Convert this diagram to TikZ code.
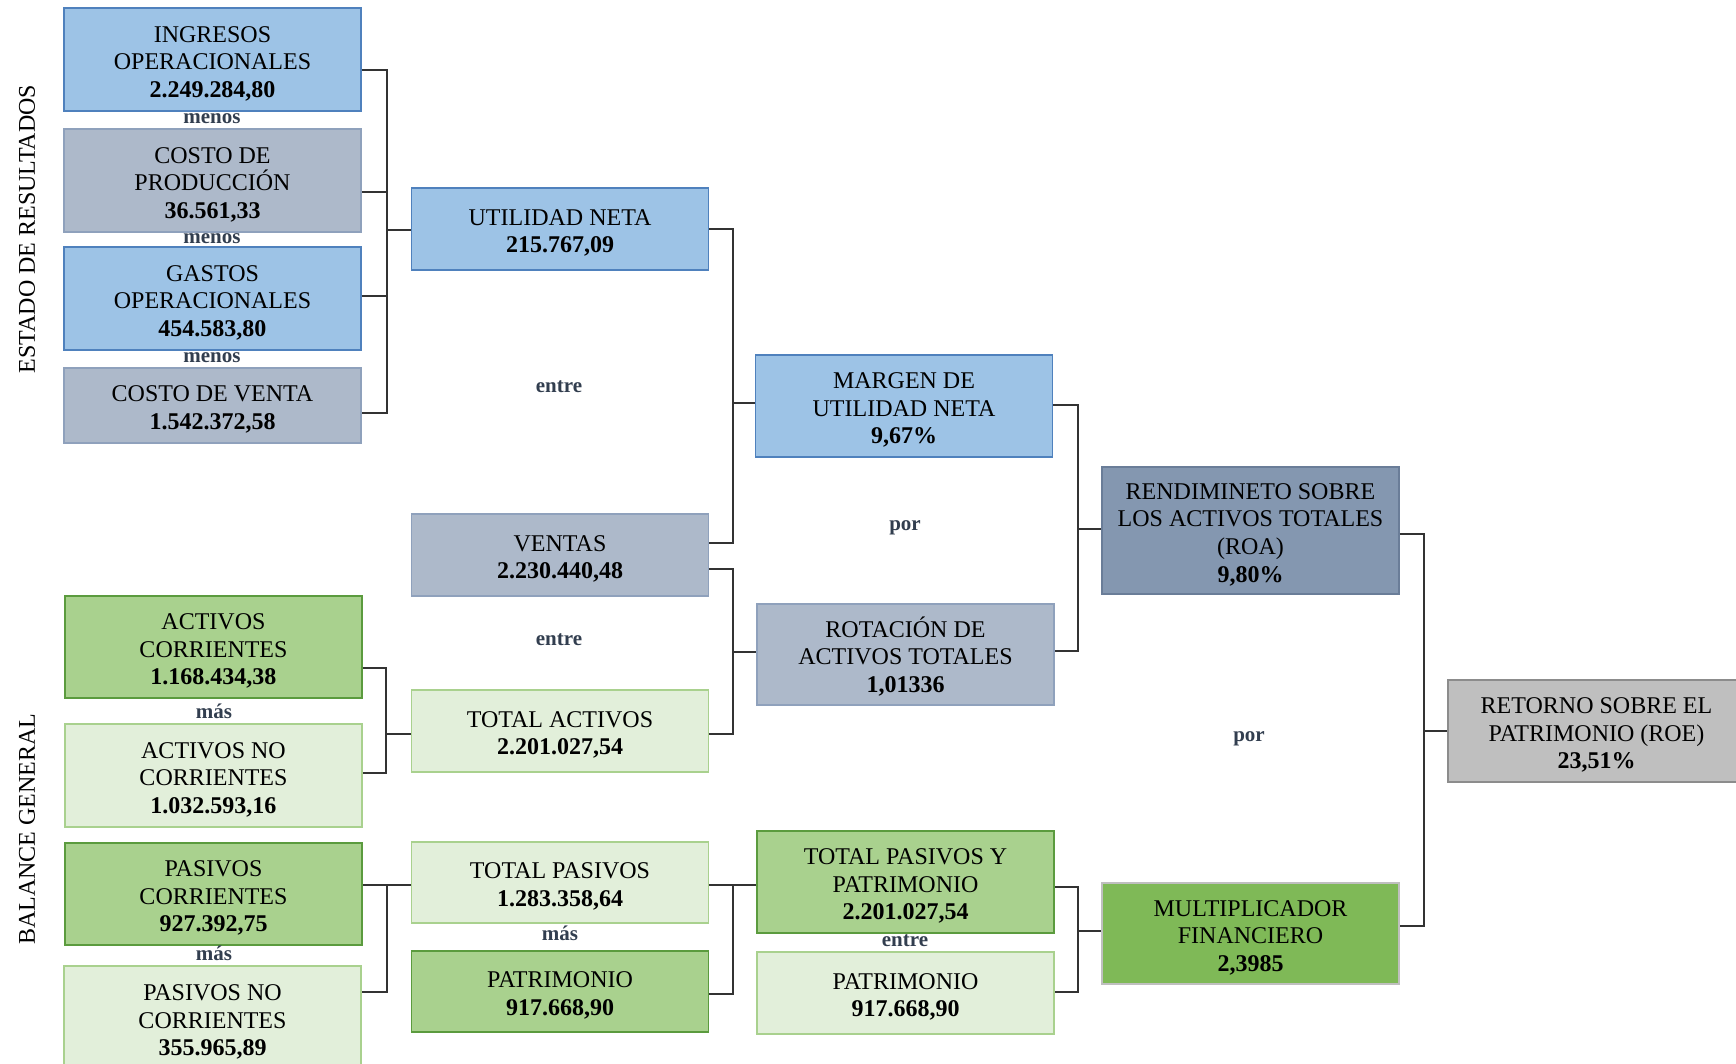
\documentclass[tikz,border=0pt]{standalone}
\usepackage{fontspec}
\setmainfont{Liberation Serif}
\definecolor{bluef}{HTML}{9DC3E6}
\definecolor{blued}{HTML}{4F81BD}
\definecolor{greyf}{HTML}{ADB9CA}
\definecolor{greyd}{HTML}{8FA1BC}
\definecolor{roaf}{HTML}{8497B0}
\definecolor{road}{HTML}{6A7D98}
\definecolor{retf}{HTML}{BFBFBF}
\definecolor{retd}{HTML}{8C8C8C}
\definecolor{greenf}{HTML}{A9D18E}
\definecolor{greend}{HTML}{5B9B3E}
\definecolor{lgreenf}{HTML}{E2EFDA}
\definecolor{lgreend}{HTML}{A9D18E}
\definecolor{multf}{HTML}{7FB957}
\definecolor{multd}{HTML}{BFBFBF}
\definecolor{labc}{HTML}{323E4F}
\definecolor{linec}{HTML}{333333}
\newcommand\bs{\rule{0pt}{12pt}}
\begin{document}
\begin{tikzpicture}[x=0.5pt,y=-0.5pt,
  box/.style={draw, line width=0.9pt, inner sep=0pt, align=center,
    minimum width=148.5pt, font=\fontsize{12}{13.8}\selectfont},
  bluebox/.style={box, fill=bluef, draw=blued},
  greybox/.style={box, fill=greyf, draw=greyd},
  roabox/.style={box, fill=roaf, draw=road},
  retbox/.style={box, fill=retf, draw=retd},
  greenbox/.style={box, fill=greenf, draw=greend},
  lgreenbox/.style={box, fill=lgreenf, draw=lgreend},
  multbox/.style={box, fill=multf, draw=multd},
  oplab/.style={font=\fontsize{10.5}{12}\selectfont\bfseries, text=labc, inner sep=0pt},
  sidelab/.style={font=\fontsize{12}{14}\selectfont, rotate=90, inner sep=0pt},
  conn/.style={draw=linec, line width=0.75pt}
]
\useasboundingbox (0,0) rectangle (1736,1064);
\fill[white] (0,0) rectangle (1736,1064);

% side labels
\node[sidelab] (estado) at (27,229) {ESTADO DE RESULTADOS};
\node[sidelab] (balance) at (27,829) {BALANCE GENERAL};

% column 1
\node[bluebox, minimum height=51.5pt] (ing) at (212.5,59.5) {\bs INGRESOS\\OPERACIONALES\\\textbf{2.249.284,80}};
\node[greybox, minimum height=51.5pt] (cprod) at (212.5,180.5) {\bs COSTO DE\\PRODUCCIÓN\\\textbf{36.561,33}};
\node[bluebox, minimum height=51.5pt] (gastos) at (212.5,298.5) {\bs GASTOS\\OPERACIONALES\\\textbf{454.583,80}};
\node[greybox, minimum height=37.5pt] (cventa) at (212.5,405.5) {\bs COSTO DE VENTA\\\textbf{1.542.372,58}};
\node[greenbox, minimum height=51pt] (actc) at (213.5,647) {\bs ACTIVOS\\CORRIENTES\\\textbf{1.168.434,38}};
\node[lgreenbox, minimum height=51.5pt] (actnc) at (213.5,775.5) {\bs ACTIVOS NO\\CORRIENTES\\\textbf{1.032.593,16}};
\node[greenbox, minimum height=51pt] (pasc) at (213.5,894) {\bs PASIVOS\\CORRIENTES\\\textbf{927.392,75}};
\node[lgreenbox, minimum height=52pt] (pasnc) at (212.5,1018) {\bs PASIVOS NO\\CORRIENTES\\\textbf{355.965,89}};

\node[oplab] (m1) at (212,119) {menos};
\node[oplab] (m2) at (212,239) {menos};
\node[oplab] (m3) at (212,358) {menos};
\node[oplab] (s1) at (214,711) {más};
\node[oplab] (s2) at (214,953) {más};

% column 2
\node[bluebox, minimum height=41pt] (util) at (560,229) {\bs UTILIDAD NETA\\\textbf{215.767,09}};
\node[greybox, minimum height=41pt] (ventas) at (560,555) {\bs VENTAS\\\textbf{2.230.440,48}};
\node[lgreenbox, minimum height=41pt] (tact) at (560,731) {\bs TOTAL ACTIVOS\\\textbf{2.201.027,54}};
\node[lgreenbox, minimum height=40.5pt] (tpas) at (560,882.5) {\bs TOTAL PASIVOS\\\textbf{1.283.358,64}};
\node[greenbox, minimum height=40.5pt] (patr1) at (560,991.5) {\bs PATRIMONIO\\\textbf{917.668,90}};

\node[oplab] (e1) at (559,387) {entre};
\node[oplab] (e2) at (559,640) {entre};
\node[oplab] (s3) at (560,933) {más};

% column 3
\node[bluebox, minimum height=51pt] (margen) at (904,406) {\bs MARGEN DE\\UTILIDAD NETA\\\textbf{9,67\%}};
\node[greybox, minimum height=50.5pt] (rot) at (905.5,654.5) {\bs ROTACIÓN DE\\ACTIVOS TOTALES\\\textbf{1,01336}};
\node[greenbox, minimum height=51pt] (tpyp) at (905.5,882) {\bs TOTAL PASIVOS Y\\PATRIMONIO\\\textbf{2.201.027,54}};
\node[lgreenbox, minimum height=41pt] (patr2) at (905.5,993) {\bs PATRIMONIO\\\textbf{917.668,90}};

\node[oplab] (p1) at (905,528) {por};
\node[oplab] (e3) at (905,941) {entre};

% column 4
\node[roabox, minimum height=63.5pt] (roa) at (1250.5,530.5) {\bs RENDIMINETO SOBRE\\LOS ACTIVOS TOTALES\\(ROA)\\\textbf{9,80\%}};
\node[multbox, minimum height=50.5pt] (mult) at (1250.5,933.5) {\bs MULTIPLICADOR\\FINANCIERO\\\textbf{2,3985}};
\node[oplab] (p2) at (1249,739) {por};

% column 5
\node[retbox, minimum height=51pt] (ret) at (1596.5,731) {\bs RETORNO SOBRE EL\\PATRIMONIO (ROE)\\\textbf{23,51\%}};

% connectors: estado de resultados -> utilidad neta
\draw[conn] (ing.east |- 0,70) -- (387,70) -- (387,413) -- (cventa.east |- 0,413);
\draw[conn] (cprod.east |- 0,192) -- (387,192);
\draw[conn] (gastos.east |- 0,296) -- (387,296);
\draw[conn] (387,230) -- (util.west |- 0,230);

% utilidad / ventas -> margen
\draw[conn] (util.east |- 0,229) -- (733,229) -- (733,543) -- (ventas.east |- 0,543);
\draw[conn] (733,403) -- (margen.west |- 0,403);

% ventas / total activos -> rotacion
\draw[conn] (ventas.east |- 0,569) -- (733,569) -- (733,734) -- (tact.east |- 0,734);
\draw[conn] (733,652) -- (rot.west |- 0,652);

% activos -> total activos
\draw[conn] (actc.east |- 0,668) -- (386,668) -- (386,773) -- (actnc.east |- 0,773);
\draw[conn] (386,734) -- (tact.west |- 0,734);

% pasivos -> total pasivos
\draw[conn] (pasc.east |- 0,885) -- (tpas.west |- 0,885);
\draw[conn] (387,885) -- (387,992) -- (pasnc.east |- 0,992);

% total pasivos / patrimonio -> total pasivos y patrimonio
\draw[conn] (tpas.east |- 0,885) -- (tpyp.west |- 0,885);
\draw[conn] (733,885) -- (733,994) -- (patr1.east |- 0,994);

% margen / rotacion -> roa
\draw[conn] (margen.east |- 0,405) -- (1078,405) -- (1078,651) -- (rot.east |- 0,651);
\draw[conn] (1078,529) -- (roa.west |- 0,529);

% tpyp / patrimonio -> multiplicador
\draw[conn] (tpyp.east |- 0,887) -- (1078,887) -- (1078,992) -- (patr2.east |- 0,992);
\draw[conn] (1078,931) -- (mult.west |- 0,931);

% roa / multiplicador -> roe
\draw[conn] (roa.east |- 0,534) -- (1424,534) -- (1424,926) -- (mult.east |- 0,926);
\draw[conn] (1424,731) -- (ret.west |- 0,731);
\end{tikzpicture}
\end{document}
